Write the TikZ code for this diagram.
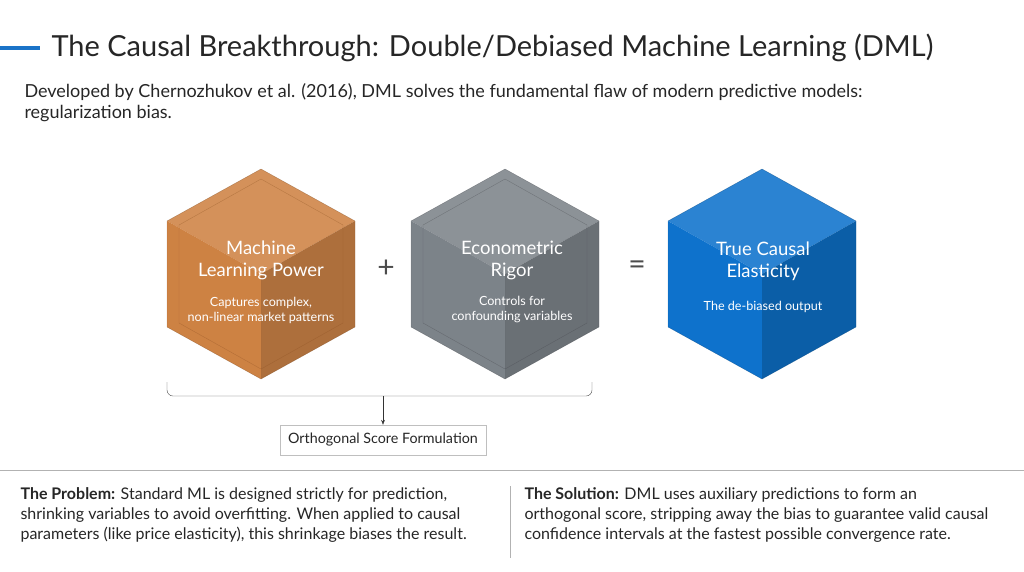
\documentclass[tikz,border=0pt]{standalone}
\usepackage{fontspec}
\setmainfont{Lato}
\usetikzlibrary{arrows.meta}
\definecolor{dmlblue}{HTML}{1A73C8}
\definecolor{cubeor}{HTML}{C8742F}
\definecolor{cubegr}{HTML}{6E757C}
\definecolor{cubebl}{HTML}{0E72CC}
\tikzset{
  title/.style={anchor=west,font=\fontsize{29}{33}\selectfont,text=black!85},
  body/.style={anchor=west,font=\fontsize{18}{21}\selectfont,text=black!85},
  note/.style={anchor=north west,align=left,font=\fontsize{16}{20}\selectfont,text=black!85},
  head/.style={font=\fontsize{18.5}{22}\selectfont,text=white,align=center},
  sub/.style={font=\fontsize{12.6}{15}\selectfont,text=white,align=center},
  sign/.style={font=\fontsize{30}{30}\selectfont,text=black!70},
}
% cube: #1 centre x, #2 colour, #3 opacity
\newcommand{\dmlcube}[3]{%
  \begin{scope}[shift={(#1,274)}]
    \fill[#2!88!white,opacity=#3] (0,-105) -- (94,-53) -- (0,0) -- (-94,-53) -- cycle;
    \fill[#2,opacity=#3] (-94,-53) -- (0,0) -- (0,105) -- (-94,53) -- cycle;
    \fill[#2!82!black,opacity=#3] (94,-53) -- (0,0) -- (0,105) -- (94,53) -- cycle;
    \draw[#2!60!black,opacity=0.5*#3] (0,-105) -- (94,-53) -- (94,53) -- (0,105) -- (-94,53) -- (-94,-53) -- cycle;
  \end{scope}}
\begin{document}
\begin{tikzpicture}[x=1pt,y=-1pt]
\useasboundingbox (0,0) rectangle (1024,571);
\fill[dmlblue] (0,46) rectangle (40,50);
\node[title] (ttl) at (48,48) {The Causal Breakthrough: Double/Debiased Machine Learning (DML)};
\node[body] (sub1) at (21,92) {Developed by Chernozhukov et al. (2016), DML solves the fundamental flaw of modern predictive models:};
\node[body] (sub2) at (21,114) {regularization bias.};

\dmlcube{261}{cubeor}{0.9}
\dmlcube{505}{cubegr}{0.9}
\dmlcube{762}{cubebl}{1}
\begin{scope}[shift={(261,274)}]
  \draw[cubeor!70!black,opacity=0.4] (0,-95) -- (82,-49) -- (82,49) -- (0,95) -- (-82,49) -- (-82,-49) -- cycle;
\end{scope}
\begin{scope}[shift={(505,274)}]
  \draw[cubegr!60!black,opacity=0.4] (0,-95) -- (82,-49) -- (82,49) -- (0,95) -- (-82,49) -- (-82,-49) -- cycle;
\end{scope}

\node[head] (ml) at (261,260) {Machine\\Learning Power};
\node[sub] (mls) at (261,310) {Captures complex,\\non-linear market patterns};
\node[head] (eco) at (512,260) {Econometric\\Rigor};
\node[sub] (ecos) at (512,310) {Controls for\\confounding variables};
\node[head] (tce) at (763,261) {True Causal\\Elasticity};
\node[sub] (tces) at (763,307) {The de-biased output};
\node[sign] (plus) at (386,269) {+};
\node[sign] (eq) at (637,268) {=};

\coordinate (bl) at (167,382);
\coordinate (br) at (592,382);
\coordinate (bm) at (383,396);
\draw[black!70] (bl) -- ++(0,8) to[out=-90,in=180] ++(6,6) -- ([xshift=-6pt]br |- bm) to[out=0,in=-90] ++(6,-6) -- (br);
\node[draw=black!25,fill=white,minimum width=206pt,minimum height=30pt,font=\fontsize{14.3}{17}\selectfont,text=black!85] (osf) at (383,440) {Orthogonal Score Formulation};
\draw[-{Stealth[length=5pt]},black!80] (bm) -- (osf.north);

\draw[black!30] (0,470) -- (1024,470);
\draw[black!30] (510,486) -- (510,558);
\node[note] (prob) at (17,484) {\textbf{The Problem:} Standard ML is designed strictly for prediction,\\shrinking variables to avoid overfitting. When applied to causal\\parameters (like price elasticity), this shrinkage biases the result.};
\node[note] (sol) at (521,484) {\textbf{The Solution:} DML uses auxiliary predictions to form an\\orthogonal score, stripping away the bias to guarantee valid causal\\confidence intervals at the fastest possible convergence rate.};
\end{tikzpicture}
\end{document}
